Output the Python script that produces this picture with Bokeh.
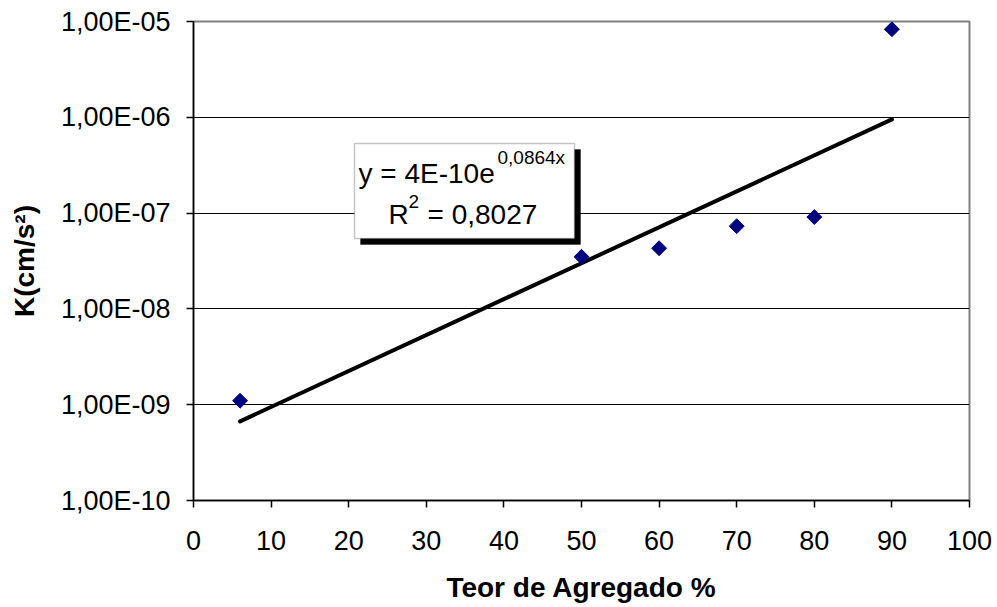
import math
from bokeh.plotting import figure
from bokeh.models import FixedTicker, CustomJSTickFormatter, Range1d, Label, BoxAnnotation
from bokeh.embed import file_html
from bokeh.resources import INLINE

# ---- data ----
teor = [6, 50, 60, 70, 80, 90]
k_values = [1.1e-9, 3.5e-8, 4.3e-8, 7.3e-8, 9.1e-8, 8.3e-6]
trend_x = [6, 90]
trend_k = [6.7e-10, 9.5e-7]
x_ticks = [0, 10, 20, 30, 40, 50, 60, 70, 80, 90, 100]
y_ticks = [1e-10, 1e-9, 1e-8, 1e-7, 1e-6, 1e-5]
y_tick_labels = ["1,00E-10", "1,00E-09", "1,00E-08", "1,00E-07", "1,00E-06", "1,00E-05"]
x_title = "Teor de Agregado %"
y_title = "K(cm/s²)"
eq_main = "y = 4E-10e"
eq_exp = "0,0864x"
r2_main = "R"
r2_sup = "2"
r2_val = "= 0,8027"

FONT = "Liberation Sans"
W, H = 997, 607
FL, FR, FT, FB = 193, 969, 21, 500  # frame edges in px

p = figure(width=W, height=H, y_axis_type="log",
           x_range=Range1d(0, 100), y_range=Range1d(1e-10, 1e-5),
           output_backend="svg", toolbar_location=None,
           min_border_left=FL, min_border_right=W - FR,
           min_border_top=FT, min_border_bottom=H - FB)
p.background_fill_color = "white"
p.border_fill_color = "white"
p.outline_line_color = "#808080"
p.outline_line_width = 2

# axes
p.xaxis.ticker = FixedTicker(ticks=x_ticks)
p.yaxis.ticker = FixedTicker(ticks=y_ticks)
p.yaxis.formatter = CustomJSTickFormatter(args=dict(tvals=y_ticks, tlabels=y_tick_labels), code="""
let best = 0, bd = Infinity;
for (let i = 0; i < tvals.length; i++) {
  const d = Math.abs(Math.log10(tick) - Math.log10(tvals[i]));
  if (d < bd) { bd = d; best = i; }
}
return tlabels[best];
""")
for ax in (p.xaxis[0], p.yaxis[0]):
    ax.axis_line_color = "black"
    ax.axis_line_width = 1.5
    ax.major_tick_line_color = "black"
    ax.major_tick_line_width = 1.5
    ax.major_tick_in = 0
    ax.major_tick_out = 7
    ax.minor_tick_line_color = None
    ax.major_label_text_font = FONT
    ax.major_label_text_font_size = "27px"
    ax.major_label_text_color = "black"
    ax.axis_label_text_font = FONT
    ax.axis_label_text_font_size = "28px"
    ax.axis_label_text_font_style = "bold"
    ax.axis_label_text_color = "black"
p.xaxis.axis_label = x_title
p.yaxis.axis_label = y_title
p.xaxis.major_label_standoff = 23
p.xaxis.axis_label_standoff = 19
p.yaxis.major_label_standoff = 16
p.yaxis.axis_label_standoff = 18

p.xgrid.grid_line_color = None
p.ygrid.ticker = FixedTicker(ticks=y_ticks)
p.ygrid.grid_line_color = "black"
p.ygrid.grid_line_width = 1

# trend line and points
p.line(trend_x, trend_k, line_color="black", line_width=4, line_cap="round")
p.scatter(teor, k_values, marker="square", angle=math.pi / 4, size=10.5,
          fill_color="#000080", line_color="#000080")

# equation box (positions given in px, converted to data units)
def fx(px):
    return (px - FL) / (FR - FL) * 100.0

def fy(py):
    return 10 ** (-5 - (py - FT) / ((FB - FT) / 5.0))

bl, br, bt, bb = 354, 574, 143, 238
p.add_layout(BoxAnnotation(left=fx(bl + 6), right=fx(br + 6), top=fy(bt + 6), bottom=fy(bb + 6),
                           fill_color="black", fill_alpha=1, line_color="black"))
p.add_layout(BoxAnnotation(left=fx(bl), right=fx(br), top=fy(bt), bottom=fy(bb),
                           fill_color="white", fill_alpha=1, line_color="#404040", line_width=1.5))

def lab(text, px, py, size):
    p.add_layout(Label(x=fx(px), y=fy(py), text=text, text_font=FONT,
                       text_font_size=size, text_color="black",
                       text_align="left", text_baseline="alphabetic"))

DY = -9
lab(eq_main, 358, 182 + DY, "28px")
lab(eq_exp, 497, 166 + DY, "19px")
lab(r2_main, 388, 223 + DY, "28px")
lab(r2_sup, 408, 210 + DY, "19px")
lab(r2_val, 427, 223 + DY, "28px")

open("out.html", "w").write(file_html(p, INLINE))
